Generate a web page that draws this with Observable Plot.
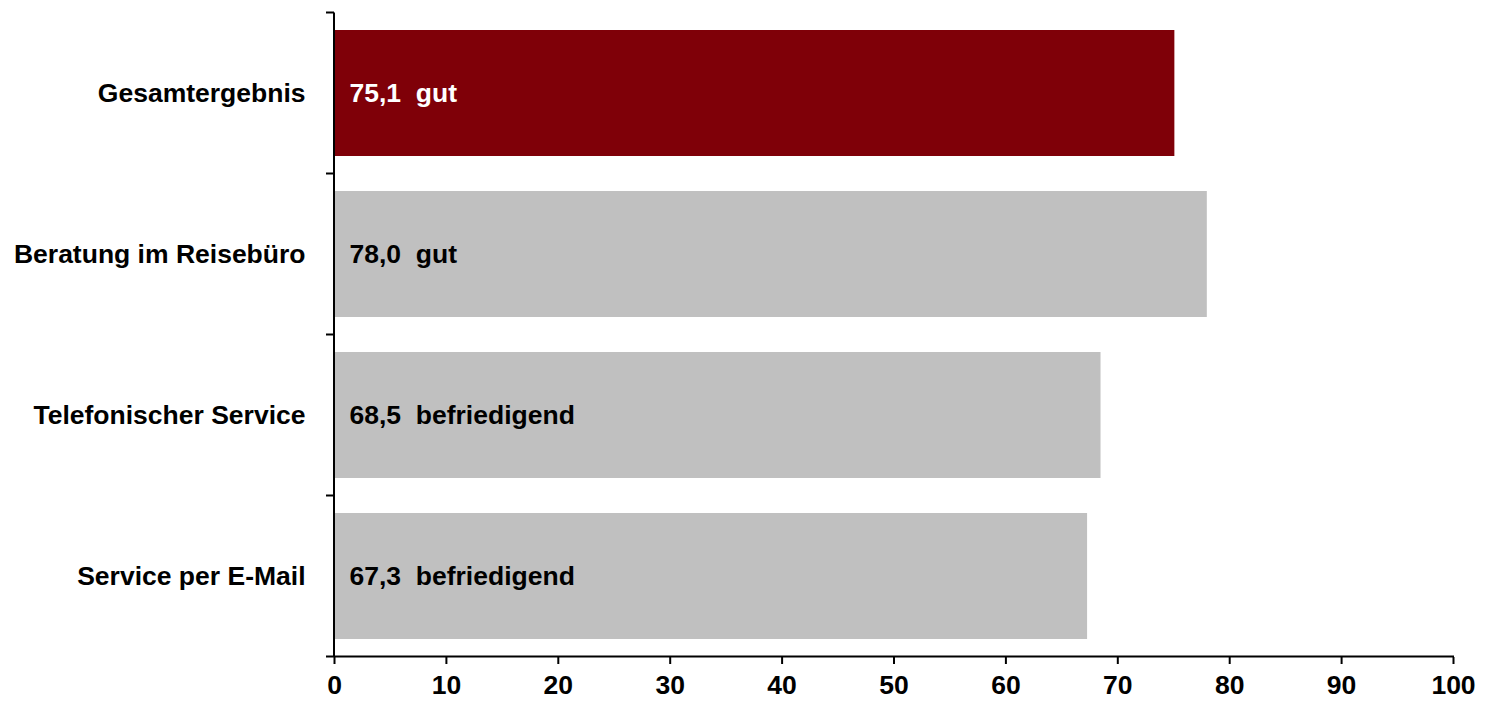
<!DOCTYPE html>
<html><head><meta charset="utf-8">
<script src="https://cdn.jsdelivr.net/npm/d3@7"></script>
<script src="https://cdn.jsdelivr.net/npm/@observablehq/plot@0.6"></script>
<style>
html,body{margin:0;padding:0;background:#fff}
#chart svg{font-family:"Liberation Sans",Arial,sans-serif;display:block}
</style>
</head><body><div id="chart"></div>
<script>
const categories = ["Gesamtergebnis", "Beratung im Reisebüro", "Telefonischer Service", "Service per E-Mail"];
const values = [75.1, 78.0, 68.5, 67.3];
const ratings = ["gut", "gut", "befriedigend", "befriedigend"];
const barColors = ["#7f0008", "#c0c0c0", "#c0c0c0", "#c0c0c0"];
const labelColors = ["#ffffff", "#000000", "#000000", "#000000"];
const xTicks = [0, 10, 20, 30, 40, 50, 60, 70, 80, 90, 100];

const data = categories.map((c, i) => ({
  cat: c, value: values[i], rating: ratings[i], bar: barColors[i], lab: labelColors[i]
}));
const fmt = v => v.toFixed(1).replace(".", ",");

// axis lines + category-boundary ticks, derived from the scales
function axisLines(index, scales, vals, dims) {
  const x = scales.x, y = scales.y;
  const bw = y.bandwidth(), step = y.step();
  const off = (step - bw) / 2;
  const x0 = x(0), x1 = x(100);
  const bounds = categories.map(c => y(c) - off);
  bounds.push(y(categories[categories.length - 1]) + bw + off);
  const yTop = bounds[0], yBot = bounds[bounds.length - 1];
  const g = d3.create("svg:g").attr("stroke", "#000").attr("stroke-width", 2).attr("fill", "none");
  g.append("line").attr("x1", x0).attr("x2", x0).attr("y1", yTop).attr("y2", yBot);
  g.append("line").attr("x1", x0 - 8).attr("x2", x1 + 1).attr("y1", yBot).attr("y2", yBot);
  bounds.slice(0, -1).forEach(b => {
    g.append("line").attr("x1", x0 - 8).attr("x2", x0).attr("y1", b).attr("y2", b);
  });
  return g.node();
}

const chart = Plot.plot({
  width: 1487,
  height: 701,
  marginTop: 11,
  marginBottom: 44,
  marginLeft: 334,
  marginRight: 34,
  style: {fontFamily: "'Liberation Sans', Arial, sans-serif", background: "#fff"},
  x: {domain: [0, 100], ticks: xTicks},
  y: {domain: categories, paddingInner: 0.22, paddingOuter: 0.11},
  marks: [
    Plot.barX(data, {x1: 0, x2: "value", y: "cat", fill: d => d.bar}),
    Plot.text(data, {
      x: 0, y: "cat", text: d => `${fmt(d.value)}\u00a0\u00a0${d.rating}`,
      textAnchor: "start", dx: 15, fill: d => d.lab, fontSize: 26.5, fontWeight: "bold"
    }),
    Plot.axisY({tickSize: 0, tickPadding: 29, fontSize: 26.5, fontWeight: "bold", label: null, fill: "#000"}),
    Plot.axisX({ticks: xTicks, tickSize: 7, tickPadding: 11, fontSize: 26.5, fontWeight: "bold", label: null, strokeWidth: 2, fill: "#000", tickFormat: d => String(d)}),
    axisLines
  ]
});
document.getElementById("chart").appendChild(chart);
</script>
</body></html>
